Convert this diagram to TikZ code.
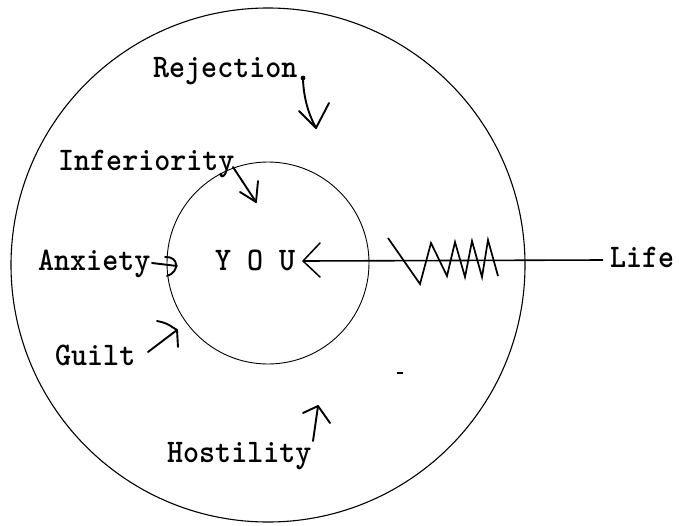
\documentclass[tikz,border=0pt]{standalone}
\usepackage{fontspec}
\usepackage{graphicx}
\newfontfamily\twfont{lmmonolt10-bold.otf}
\newcommand\twtext[1]{\scalebox{1}[1.08]{#1}}
\begin{document}
\begin{tikzpicture}[x=1pt,y=-1pt,
  lbl/.style={inner sep=0pt, anchor=base west, font=\twfont\fontsize{30.5}{34}\selectfont},
  hand/.style={line width=1.9pt, line cap=round, line join=round},
  ring/.style={line width=1.1pt}]
\useasboundingbox (0,0) rectangle (679,525);
% circles
\coordinate (oc) at (268,265);
\coordinate (ic) at (268,263);
\draw[ring] (oc) circle[radius=257];
\draw[ring, line width=0.9pt] (ic) circle[radius=101];
% labels
\node[lbl] (rej) at (153,77) {\twtext{Rejection}};
\node[lbl] (inf) at (58,170) {\twtext{Inferiority}};
\node[lbl] (anx) at (38,270) {\twtext{Anxiety}};
\node[lbl] (you) at (215,270) {\twtext{Y O U}};
\node[lbl] (gui) at (55,365) {\twtext{Guilt}};
\node[lbl] (hos) at (167,462) {\twtext{Hostility}};
\node[lbl] (life) at (610,267) {\twtext{Life}};
% Rejection arrow
\coordinate (r0) at (303,80);
\coordinate (r1) at (316,128);
\fill (303,78) circle[radius=2.4];
\draw[hand] (r0) .. controls (304,100) and (309,115) .. (r1);
\draw[hand] (299,111) -- (r1) -- (329,103);
% Inferiority arrow
\coordinate (i0) at (233,167);
\coordinate (i1) at (256,202);
\draw[hand] (i0) -- (i1);
\draw[hand] (240,192) -- (i1) -- (258,181);
% Anxiety arrow
\coordinate (a0) at (152,263);
\coordinate (a1) at (177,266);
\draw[hand] (a0) -- (a1);
\draw[hand] (165,257) .. controls (179,256) and (180,272) .. (167,276);
% Guilt arrow
\coordinate (g0) at (148,352);
\coordinate (g1) at (177,330);
\draw[hand] (g0) -- (g1);
\draw[hand] (157,321) .. controls (166,323) .. (g1) -- (178,347);
% Hostility arrow
\coordinate (h0) at (313,441);
\coordinate (h1) at (318,406);
\draw[hand] (h0) -- (h1);
\draw[hand] (303,413) -- (h1) -- (330,423);
% Life line
\coordinate (lt) at (303,261);
\coordinate (le) at (603,260);
\draw[line width=1.6pt] (lt) -- (le);
\draw[hand, line width=1.5pt] (320,243) -- (lt) -- (320,277);
% zigzag
\draw[line width=1.7pt, line join=miter] (388,238) -- (420,284) -- (431,243) -- (447,276) -- (455,242) -- (465,277) -- (472,241) -- (482,277) -- (488,240) -- (498,276);
% stray dash
\draw[line width=1.3pt] (397,373) -- (403,373);
\end{tikzpicture}
\end{document}
